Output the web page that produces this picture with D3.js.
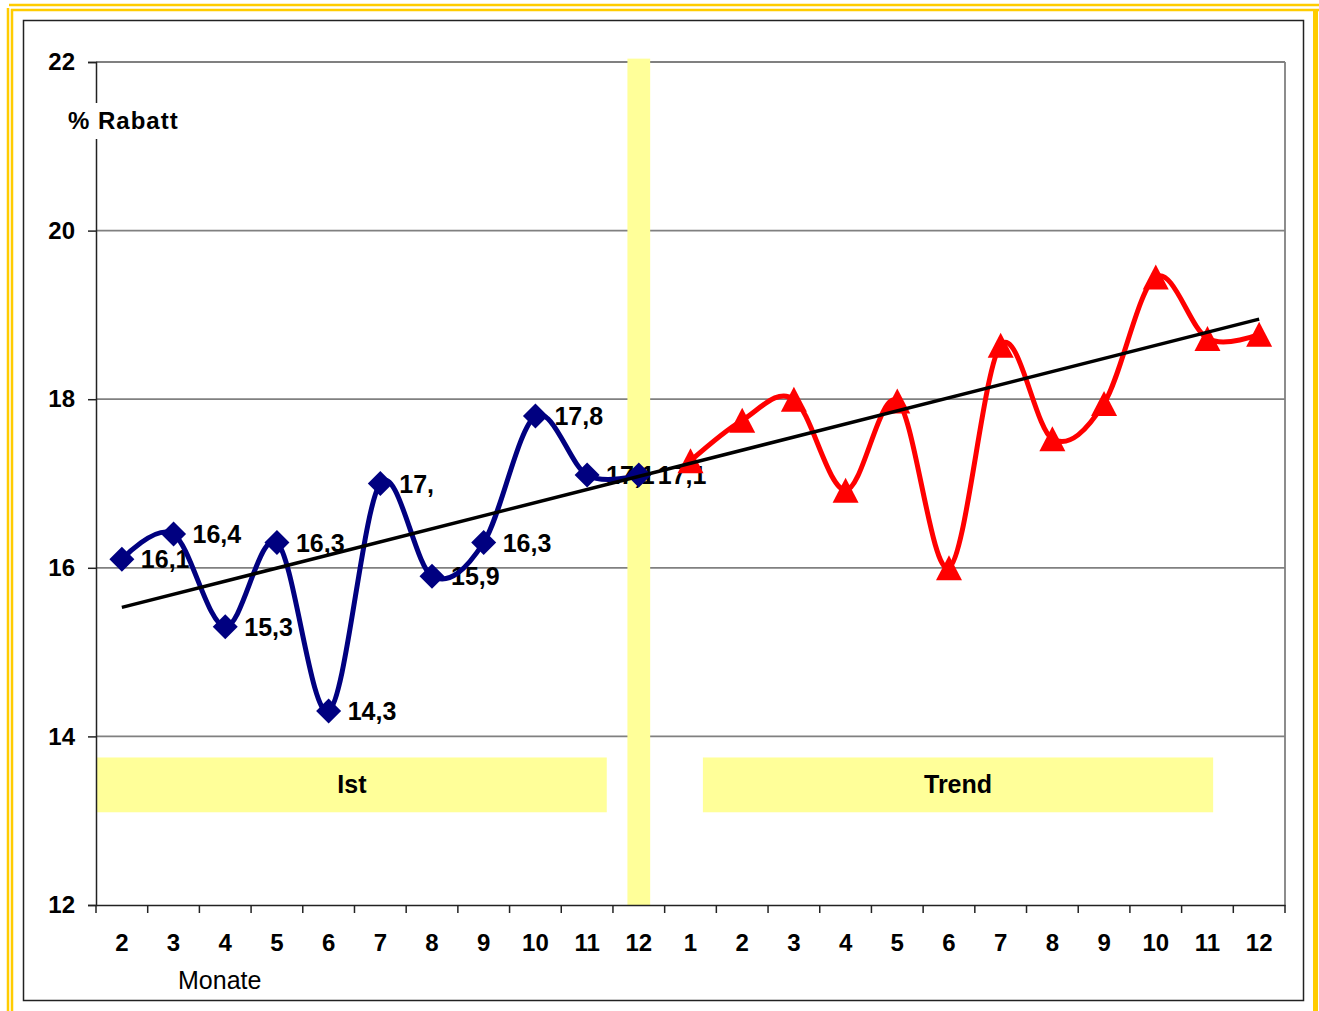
<!DOCTYPE html>
<html>
<head>
<meta charset="utf-8">
<script src="https://cdn.jsdelivr.net/npm/d3@7/dist/d3.min.js"></script>
<style>
  html, body { margin: 0; padding: 0; background: #fff; }
  svg { display: block; font-family: "Liberation Sans", Arial, sans-serif; }
</style>
</head>
<body>
<svg id="chart" width="1319" height="1011"></svg>
<script>
// Month labels along the x axis: Ist (2..12) followed by Trend (1..12)
const categories = ["2","3","4","5","6","7","8","9","10","11","12",
                    "1","2","3","4","5","6","7","8","9","10","11","12"];
// Actual discount per month (% Rabatt)
const istValues = [16.1, 16.4, 15.3, 16.3, 14.3, 17.0, 15.9, 16.3, 17.8, 17.1, 17.1];
// Forecast discount per month
const trendValues = [17.27, 17.75, 18.0, 16.92, 17.98, 16.0, 18.64, 17.53, 17.95, 19.45, 18.72, 18.77];
// Linear trend line: value at first and last month
const trendLineEnds = [15.53, 18.95];
// Y axis ticks
const yTicks = [12, 14, 16, 18, 20, 22];

const svg = d3.select("#chart");
const W = 1319, H = 1011;
const plot = { left: 96, right: 1285, top: 62, bottom: 905 };

// Frame: double yellow border and black inner border
const yellow = "#FFCC00";
svg.append("line").attr("x1", 9).attr("x2", W).attr("y1", 5).attr("y2", 5).attr("stroke", yellow).attr("stroke-width", 2.5);
svg.append("line").attr("x1", 11).attr("x2", W).attr("y1", 10).attr("y2", 10).attr("stroke", yellow).attr("stroke-width", 2.5);
svg.append("line").attr("x1", 8).attr("x2", 8).attr("y1", 8).attr("y2", H).attr("stroke", yellow).attr("stroke-width", 2.5);
svg.append("line").attr("x1", 12).attr("x2", 12).attr("y1", 9).attr("y2", H).attr("stroke", yellow).attr("stroke-width", 2.5);
svg.append("rect").attr("x", 1313).attr("y", 9).attr("width", 5).attr("height", H).attr("fill", yellow);
svg.append("rect").attr("x", 23.5).attr("y", 20.5).attr("width", 1280).attr("height", 980)
  .attr("fill", "none").attr("stroke", "#222").attr("stroke-width", 1.5);

// Scales
const idx = d3.range(categories.length);
const xBand = d3.scaleBand().domain(idx).range([plot.left, plot.right]).padding(0);
const cx = i => xBand(i) + xBand.bandwidth() / 2;
const xLin = d3.scaleLinear().domain([0, categories.length - 1]).range([cx(0), cx(categories.length - 1)]);
const y = d3.scaleLinear().domain([12, 22]).range([plot.bottom, plot.top]);

// Horizontal gridlines and right plot border
svg.append("g").selectAll("line").data(yTicks.filter(v => v > 12)).join("line")
  .attr("x1", plot.left).attr("x2", plot.right)
  .attr("y1", d => y(d)).attr("y2", d => y(d))
  .attr("stroke", "#808080").attr("stroke-width", 1.8);
svg.append("line").attr("x1", plot.right).attr("x2", plot.right)
  .attr("y1", y(22)).attr("y2", y(12)).attr("stroke", "#808080").attr("stroke-width", 1.8);

// Vertical yellow separator at the last actual month
const sepIndex = istValues.length - 1;
svg.append("rect")
  .attr("x", xLin(sepIndex - 0.22)).attr("width", xLin(sepIndex + 0.22) - xLin(sepIndex - 0.22))
  .attr("y", y(22.04)).attr("height", y(12) - y(22.04))
  .attr("fill", "#FFFF99");

// Section boxes
const sections = [
  { name: "Ist", from: -0.48, to: 9.38 },
  { name: "Trend", from: 11.24, to: 21.11 }
];
const boxLow = 13.1, boxHigh = 13.75;
const sec = svg.append("g").selectAll("g").data(sections).join("g");
sec.append("rect")
  .attr("x", d => xLin(d.from)).attr("width", d => xLin(d.to) - xLin(d.from))
  .attr("y", y(boxHigh)).attr("height", y(boxLow) - y(boxHigh))
  .attr("fill", "#FFFF99");
sec.append("text")
  .attr("x", d => (xLin(d.from) + xLin(d.to)) / 2)
  .attr("y", y((boxLow + boxHigh) / 2) + 8.5)
  .attr("text-anchor", "middle").attr("font-size", 25).attr("font-weight", "bold")
  .text(d => d.name);

// Y axis
const yAxis = svg.append("g").attr("transform", `translate(${plot.left},0)`)
  .call(d3.axisLeft(y).tickValues(yTicks).tickSize(8).tickPadding(13).tickFormat(d3.format("d")));
yAxis.select(".domain").attr("stroke", "#222").attr("stroke-width", 1.5);
yAxis.selectAll(".tick line").attr("stroke", "#222").attr("stroke-width", 1.5);
yAxis.selectAll("text").attr("font-size", 24).attr("font-weight", "bold").attr("fill", "#000")
  .attr("font-family", "Liberation Sans, Arial, sans-serif");

// X axis
const xAxis = svg.append("g").attr("transform", `translate(0,${plot.bottom})`)
  .call(d3.axisBottom(xBand).tickSize(0).tickPadding(29).tickFormat(i => categories[i]));
xAxis.select(".domain").attr("stroke", "#222").attr("stroke-width", 1.5);
xAxis.selectAll("text").attr("font-size", 24).attr("font-weight", "bold").attr("fill", "#000")
  .attr("font-family", "Liberation Sans, Arial, sans-serif");
svg.append("g").selectAll("line").data(d3.range(categories.length + 1)).join("line")
  .attr("x1", i => plot.left + i * xBand.step()).attr("x2", i => plot.left + i * xBand.step())
  .attr("y1", plot.bottom).attr("y2", plot.bottom + 8)
  .attr("stroke", "#222").attr("stroke-width", 1.5);

// Axis titles
svg.append("rect").attr("x", 88).attr("y", 103).attr("width", 16).attr("height", 36).attr("fill", "#fff");
svg.append("text").attr("x", 68).attr("y", 129)
  .attr("font-size", 24).attr("font-weight", "bold").attr("letter-spacing", 1)
  .text("% Rabatt");
svg.append("text").attr("x", 178).attr("y", 989)
  .attr("font-size", 25)
  .text("Monate");

// Series data
const ist = istValues.map((v, i) => ({ i, v }));
const trend = trendValues.map((v, k) => ({ i: istValues.length + k, v }));
const line = d3.line().x(d => cx(d.i)).y(d => y(d.v)).curve(d3.curveCatmullRom.alpha(0));

// Data labels for actual values (Excel-style "0,#")
const fmt = v => {
  const s = (Math.round(v * 10) / 10).toFixed(1).replace(".", ",");
  return s.endsWith(",0") ? s.slice(0, -1) : s;
};
svg.append("g").selectAll("text").data(ist).join("text")
  .attr("x", d => cx(d.i) + 19).attr("y", d => y(d.v) + 9)
  .attr("font-size", 25).attr("font-weight", "bold")
  .text(d => fmt(d.v));

// Ist line with diamond markers
svg.append("path").datum(ist).attr("d", line)
  .attr("fill", "none").attr("stroke", "#000080").attr("stroke-width", 5).attr("stroke-linejoin", "round");
svg.append("g").selectAll("path").data(ist).join("path")
  .attr("d", d => { const x0 = cx(d.i), y0 = y(d.v), r = 12.5;
    return `M${x0},${y0 - r}L${x0 + r},${y0}L${x0},${y0 + r}L${x0 - r},${y0}Z`; })
  .attr("fill", "#000080");

// Trend line with triangle markers
svg.append("path").datum(trend).attr("d", line)
  .attr("fill", "none").attr("stroke", "#FF0000").attr("stroke-width", 5).attr("stroke-linejoin", "round");
svg.append("g").selectAll("path").data(trend).join("path")
  .attr("d", d => { const x0 = cx(d.i), y0 = y(d.v), h = 12.5, w = 13;
    return `M${x0},${y0 - h}L${x0 + w},${y0 + h}L${x0 - w},${y0 + h}Z`; })
  .attr("fill", "#FF0000");

// Linear trend across all months
svg.append("line")
  .attr("x1", cx(0)).attr("y1", y(trendLineEnds[0]))
  .attr("x2", cx(categories.length - 1)).attr("y2", y(trendLineEnds[1]))
  .attr("stroke", "#000").attr("stroke-width", 3.5);
</script>
</body>
</html>
